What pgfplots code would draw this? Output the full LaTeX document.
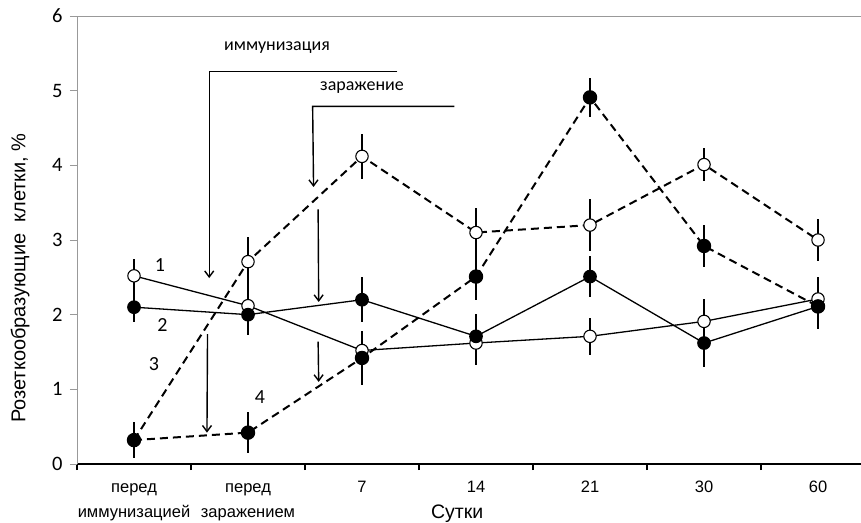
\documentclass[border=0pt]{standalone}
\usepackage{fontspec}
\setmainfont{Liberation Sans}
\newfontfamily\calib{Carlito}
\usepackage{pgfplots}
\usepackage{pgfplotstable}
\pgfplotsset{compat=1.18}
\usetikzlibrary{arrows.meta}

% series 1: open circles, solid line
\pgfplotstableread{
x y e
0 2.52 0.22
1 2.12 0.30
2 1.52 0.20
3 1.62 0.30
4 1.71 0.25
5 1.91 0.30
6 2.21 0.30
}\sA
% series 2: filled circles, solid line
\pgfplotstableread{
x y e
0 2.10 0.20
1 2.00 0.27
2 2.20 0.30
3 1.71 0.30
4 2.51 0.28
5 1.62 0.32
6 2.11 0.30
}\sB
% series 3: open circles, dashed line
\pgfplotstableread{
x y e
0 0.32 0.00
1 2.71 0.33
2 4.12 0.30
3 3.10 0.33
4 3.20 0.35
5 4.01 0.22
6 3.00 0.28
}\sC
% series 4: filled circles, dashed line
\pgfplotstableread{
x y e
0 0.32 0.24
1 0.42 0.27
2 1.42 0.36
3 2.51 0.32
4 4.91 0.26
5 2.92 0.28
6 2.11 0.30
}\sD

\begin{document}
\begin{tikzpicture}
\path[use as bounding box] (0,0) rectangle (861bp,523bp);
\begin{axis}[
  at={(77bp,59bp)}, anchor=south west,
  scale only axis, width=784bp, height=448bp,
  xmin=-0.5, xmax=6.377, ymin=0, ymax=6,
  axis x line*=bottom, axis y line*=left,
  x axis line style={black, line width=1.5bp, -},
  y axis line style={black!40, line width=0.8bp, -},
  xtick={0,...,6},
  xticklabels={{\strut перед\\иммунизацией},{\strut перед\\заражением},{\strut 7},{\strut 14},{\strut 21},{\strut 30},{\strut 60}},
  minor xtick={-0.5,0.5,...,5.5},
  major x tick style={draw=none},
  minor x tick style={black, line width=1.2bp},
  minor tick length=6bp,
  ytick={0,...,6},
  major y tick style={black!40, line width=0.8bp},
  major tick length=7bp,
  tick align=outside,
  /pgf/number format/assume math mode=true,
  yticklabel style={font=\calib\fontsize{20.5bp}{24bp}\selectfont, xshift=-4bp},
  xticklabel style={align=center, anchor=north, font=\fontsize{16.5bp}{25bp}\selectfont, yshift=0bp},
  xlabel={Сутки},
  xlabel style={at={(axis description cs:0.485,-0.1115)}, anchor=center, font=\fontsize{19.5bp}{22bp}\selectfont},
  ylabel={Розеткообразующие\ \ клетки, \%},
  ylabel style={at={(axis description cs:-0.0727,0.415)}, anchor=center, font=\fontsize{20bp}{22bp}\selectfont},
  clip=false,
]
\draw[black!40, line width=0.8bp] (rel axis cs:0,1) -- (rel axis cs:1,1);

% open series
\addplot[black, line width=1.3bp, mark=*, mark size=6.2bp, mark options={fill=white, line width=1.1bp}] table[x=x,y=y] {\sA};
\addplot[black, line width=2bp, dash pattern=on 8bp off 5bp, mark=*, mark size=6.2bp, mark indices={2,3,4,5,6,7}, mark options={solid, fill=white, line width=1.1bp}] table[x=x,y=y] {\sC};
% filled series
\addplot[black, line width=1.3bp, mark=*, mark size=6.2bp, mark options={fill=black}] table[x=x,y=y] {\sB};
\addplot[black, line width=2bp, dash pattern=on 8bp off 5bp, mark=*, mark size=6.2bp, mark options={solid, fill=black}] table[x=x,y=y] {\sD};

% error bars
\addplot[draw=none, forget plot, error bars/.cd, y dir=both, y explicit, error mark=none, error bar style={draw=black, solid, line width=1.5bp}] table[x=x,y=y,y error=e] {\sA};
\addplot[draw=none, forget plot, error bars/.cd, y dir=both, y explicit, error mark=none, error bar style={draw=black, solid, line width=1.5bp}] table[x=x,y=y,y error=e] {\sB};
\addplot[draw=none, forget plot, error bars/.cd, y dir=both, y explicit, error mark=none, error bar style={draw=black, solid, line width=1.5bp}] table[x=x,y=y,y error=e] {\sC};
\addplot[draw=none, forget plot, error bars/.cd, y dir=both, y explicit, error mark=none, error bar style={draw=black, solid, line width=1.5bp}] table[x=x,y=y,y error=e] {\sD};

% annotations
\begin{scope}[font=\calib\fontsize{18bp}{22bp}\selectfont]
\node at (axis cs:1.254,5.58) {иммунизация};
\node at (axis cs:2.0,5.04) {заражение};
\end{scope}
\begin{scope}[font=\calib\fontsize{20bp}{24bp}\selectfont]
\node at (axis cs:0.228,2.665) {1};
\node at (axis cs:0.25,1.86) {2};
\node at (axis cs:0.175,1.34) {3};
\node at (axis cs:1.105,0.89) {4};
\end{scope}
\begin{scope}[line width=1.4bp, -{Straight Barb[length=6bp,width=9bp]}]
\draw (axis cs:2.31,5.26) -- (axis cs:0.66,5.26) -- (axis cs:0.66,2.49);
\draw (axis cs:0.645,1.74) -- (axis cs:0.64,0.42);
\draw (axis cs:2.81,4.79) -- (axis cs:1.567,4.79) -- (axis cs:1.575,3.71);
\draw (axis cs:1.615,3.41) -- (axis cs:1.62,2.17);
\draw (axis cs:1.615,1.64) -- (axis cs:1.62,1.10);
\end{scope}
\end{axis}
\end{tikzpicture}
\end{document}
